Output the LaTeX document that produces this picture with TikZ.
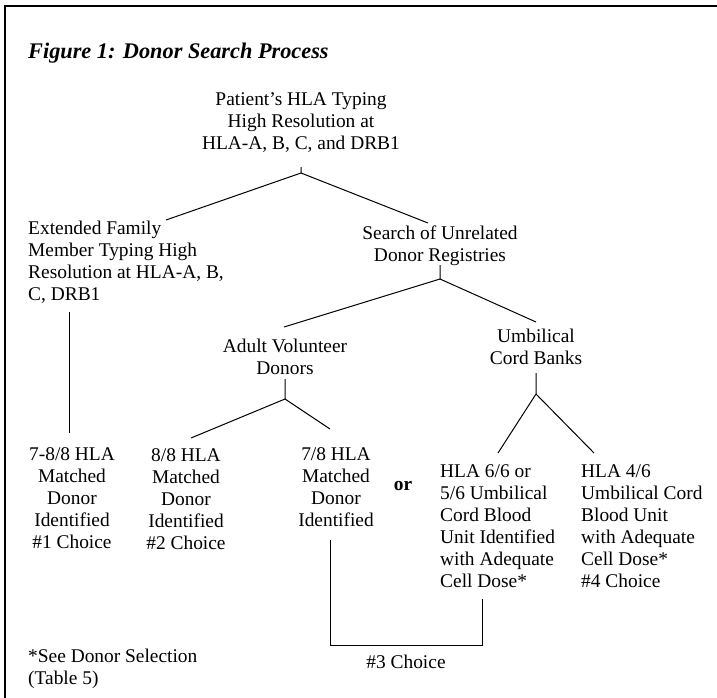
\documentclass[tikz,border=0pt]{standalone}
\usepackage{fontspec}
\setmainfont{Liberation Serif}
\newcommand{\fl}{\rule{0pt}{14pt}}
\begin{document}
\begin{tikzpicture}[x=1pt,y=-1pt,
  txt/.style={font=\fontsize{19.4}{22}\selectfont, inner sep=0pt, anchor=north, align=center},
  txtl/.style={txt, anchor=north west, align=left},
  conn/.style={draw=black, line width=1pt},
  frame/.style={draw=black, line width=1.6pt}]
\useasboundingbox (0,0) rectangle (717,698);
% frame (top and left edges visible)
\coordinate (fbl) at (5,698);
\coordinate (ftl) at (5,6);
\coordinate (ftr) at (717,6);
\draw[frame] (fbl) -- (ftl) -- (ftr);

\node[font=\fontsize{22.3}{26}\selectfont\bfseries\itshape, anchor=base west, inner sep=0pt] (title) at (28,59) {Figure 1: Donor Search Process};

\node[txt] (pat) at (301,91) {\fl Patient’s HLA Typing\\High Resolution at\\HLA-A, B, C, and DRB1};
\node[txtl] (fam) at (28,220) {\fl Extended Family\\Member Typing High\\Resolution at HLA-A, B,\\C, DRB1};
\node[txt] (sea) at (440,225) {\fl Search of Unrelated\\Donor Registries};
\node[txt] (adu) at (285,338) {\fl Adult Volunteer\\Donors};
\node[txt] (umb) at (536,328) {\fl Umbilical\\Cord Banks};
\node[txt] (c1) at (72,446) {\fl 7-8/8 HLA\\Matched\\Donor\\Identified\\\#1 Choice};
\node[txt] (c2) at (186,447) {\fl 8/8 HLA\\Matched\\Donor\\Identified\\\#2 Choice};
\node[txt] (c3) at (336,446) {\fl 7/8 HLA\\Matched\\Donor\\Identified};
\node[font=\fontsize{19.4}{22}\selectfont\bfseries, anchor=base, inner sep=0pt] (or) at (403,490) {or};
\node[txtl] (cb1) at (440,463) {\fl HLA 6/6 or\\5/6 Umbilical\\Cord Blood\\Unit Identified\\with Adequate\\Cell Dose*};
\node[txtl] (cb2) at (581,463) {\fl HLA 4/6\\Umbilical Cord\\Blood Unit\\with Adequate\\Cell Dose*\\\#4 Choice};
\node[font=\fontsize{19.4}{22}\selectfont, anchor=base, inner sep=0pt] (ch3) at (406,668) {\#3 Choice};
\node[txtl] (foot) at (28,648) {\fl *See Donor Selection\\(Table 5)};

% connector end points
\coordinate (patb) at (301,167);
\coordinate (j1) at (301,173);
\coordinate (famt) at (166,220);
\coordinate (seat) at (428,223);
\coordinate (famb) at (69,312);
\coordinate (c1t) at (69,433);
\coordinate (seab) at (440,265);
\coordinate (j2) at (440,279);
\coordinate (adut) at (284,327);
\coordinate (umbt) at (536,322);
\coordinate (adub) at (285,379);
\coordinate (j3) at (285,399);
\coordinate (c2t) at (191,438);
\coordinate (c3t) at (330,429);
\coordinate (umbb) at (536,373);
\coordinate (j4) at (536,394);
\coordinate (cb1t) at (498,453);
\coordinate (cb2t) at (594,453);
\coordinate (c3b) at (330,540);
\coordinate (cb1b) at (482,599);
\coordinate (k) at (330,645);
\coordinate (k2) at (482,645);

\draw[conn] (patb) -- (j1) -- (famt);
\draw[conn] (j1) -- (seat);
\draw[conn] (famb) -- (c1t);
\draw[conn] (seab) -- (j2) -- (adut);
\draw[conn] (j2) -- (umbt);
\draw[conn] (adub) -- (j3) -- (c2t);
\draw[conn] (j3) -- (c3t);
\draw[conn] (umbb) -- (j4) -- (cb1t);
\draw[conn] (j4) -- (cb2t);
\draw[conn] (c3b) -- (k) -- (k2) -- (cb1b);
\end{tikzpicture}
\end{document}
